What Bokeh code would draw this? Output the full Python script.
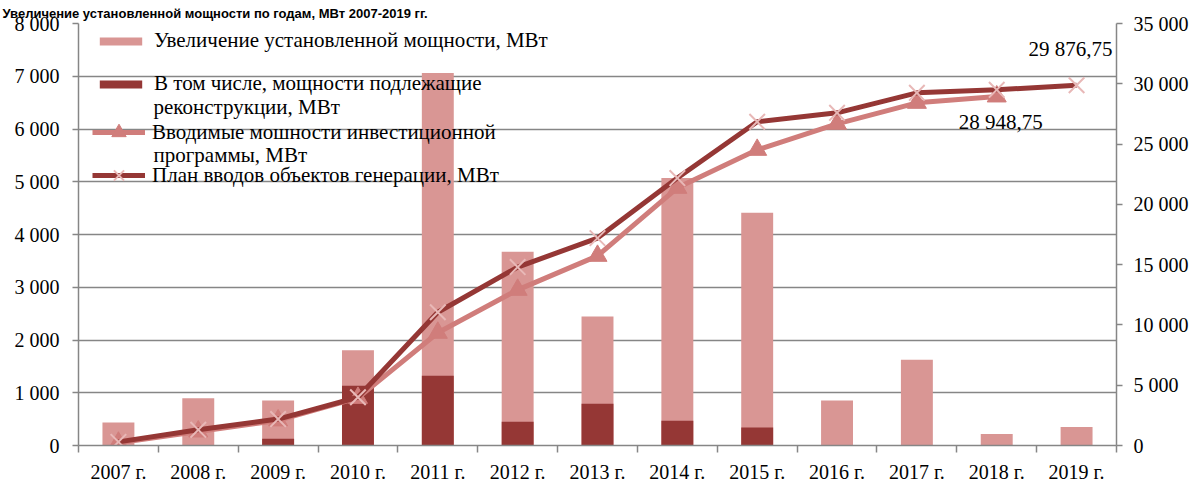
import numpy as np
from bokeh.plotting import figure
from bokeh.models import Range1d, LinearAxis, FixedTicker, Legend, LegendItem, Label
from bokeh.embed import file_html
from bokeh.resources import INLINE

years = ["2007 г.", "2008 г.", "2009 г.", "2010 г.", "2011 г.", "2012 г.", "2013 г.",
         "2014 г.", "2015 г.", "2016 г.", "2017 г.", "2018 г.", "2019 г."]
increase = [436, 898, 853, 1808, 7063, 3671, 2445, 5073, 4410, 853, 1624, 216, 349]
reconstruction = [0, 0, 127, 1131, 1321, 449, 790, 468, 341, 0, 0, 0, 0]
invest = [230, 1160, 2080, 3950, 9350, 12910, 15730, 21370, 24520, 26680, 28420, 28948.75]
plan = [300, 1300, 2190, 4000, 11050, 14800, 17200, 22180, 26850, 27590, 29250, 29500, 29876.75]
left_ticks = [0, 1000, 2000, 3000, 4000, 5000, 6000, 7000, 8000]
right_ticks = [0, 5000, 10000, 15000, 20000, 25000, 30000, 35000]

title = "Увеличение установленной мощности по годам, МВт 2007-2019 гг."
names = ["Увеличение установленной мощности, МВт",
         "В том числе, мощности подлежащие",
         "Вводимые мошности инвестиционной",
         "План вводов объектов генерации, МВт"]
names_cont = ["реконструкции, МВт", "программы, МВт"]

def sp(v):
    return f"{int(v):,}".replace(",", " ")

def ru(v):
    return f"{v:,.2f}".replace(",", " ").replace(".", ",")

FONT = "Liberation Serif"
GRID = "#868686"
C_LIGHT = "#d99694"
C_DARK = "#953735"
C_INV = "#d07d7b"
C_X = "#e8b8b7"
TICK_FS = "20px"
LEG_FS = "21px"

xc = [i + 0.5 for i in range(len(years))]

p = figure(frame_width=1038, frame_height=422,
           x_range=Range1d(0, len(years)), y_range=Range1d(0, 8000),
           output_backend="svg", toolbar_location=None,
           min_border_left=78, min_border_right=76, min_border_top=23, min_border_bottom=36)
p.extra_y_ranges = {"right": Range1d(0, 35000)}
p.outline_line_color = None
p.background_fill_color = "white"
p.border_fill_color = "white"

p.title.text = title
p.title.text_font = "Liberation Sans"
p.title.text_font_style = "bold"
p.title.text_font_size = "13px"
p.title.text_color = "black"
p.title.align = "left"
p.title.offset = -76
p.title.standoff = 6

# axes
xa = p.xaxis[0]
xa.ticker = FixedTicker(ticks=xc, minor_ticks=list(range(len(years) + 1)))
xa.major_label_overrides = {x: y for x, y in zip(xc, years)}
xa.major_tick_line_color = None
xa.major_tick_in = 0
xa.major_tick_out = 7
xa.minor_tick_line_color = GRID
xa.minor_tick_line_width = 1.5
xa.minor_tick_in = 0
xa.minor_tick_out = 7
xa.axis_line_color = GRID
xa.axis_line_width = 1.5
xa.major_label_text_font = FONT
xa.major_label_text_font_size = TICK_FS
xa.major_label_text_color = "black"
xa.major_label_standoff = 8

ya = p.yaxis[0]
ya.ticker = FixedTicker(ticks=left_ticks)
ya.major_label_overrides = {t: sp(t) for t in left_ticks}
ya.minor_tick_line_color = None
ya.major_tick_in = 0
ya.major_tick_out = 6
ya.major_tick_line_color = GRID
ya.major_tick_line_width = 1.5
ya.axis_line_color = GRID
ya.axis_line_width = 1.5
ya.major_label_text_font = FONT
ya.major_label_text_font_size = TICK_FS
ya.major_label_text_color = "black"
ya.major_label_standoff = 13

ra = LinearAxis(y_range_name="right", ticker=FixedTicker(ticks=right_ticks))
ra.major_label_overrides = {t: sp(t) for t in right_ticks}
ra.minor_tick_line_color = None
ra.major_tick_in = 0
ra.major_tick_out = 6
ra.major_tick_line_color = GRID
ra.major_tick_line_width = 1.5
ra.axis_line_color = GRID
ra.axis_line_width = 1.5
ra.major_label_text_font = FONT
ra.major_label_text_font_size = TICK_FS
ra.major_label_text_color = "black"
ra.major_label_standoff = 11
p.add_layout(ra, "right")

p.xgrid.visible = False
p.ygrid.ticker = FixedTicker(ticks=left_ticks)
p.ygrid.grid_line_color = GRID
p.ygrid.grid_line_width = 1.5

# bars
b1 = p.vbar(x=xc, top=increase, width=0.4, fill_color=C_LIGHT, line_color=None)
b2 = p.vbar(x=xc, top=reconstruction, width=0.4, fill_color=C_DARK, line_color=None)

# lines
l1 = p.line(xc[:len(invest)], invest, y_range_name="right", line_color=C_INV, line_width=5)
m1 = p.scatter(xc[:len(invest)], invest, y_range_name="right", marker="triangle", size=19,
               fill_color=C_INV, line_color=C_INV)
l2 = p.line(xc, plan, y_range_name="right", line_color=C_DARK, line_width=5)
m2 = p.scatter(xc, plan, y_range_name="right", marker="x", size=22,
               line_color=C_X, line_width=2)

# data labels
p.add_layout(Label(x=xc[len(plan) - 1], y=plan[-1], y_range_name="right", text=ru(plan[-1]),
                   text_font=FONT, text_font_size=LEG_FS, text_align="center", text_color="black",
                   text_baseline="middle", x_offset=-6, y_offset=36))
p.add_layout(Label(x=xc[len(invest) - 1], y=invest[-1], y_range_name="right", text=ru(invest[-1]),
                   text_font=FONT, text_font_size=LEG_FS, text_align="center", text_color="black",
                   text_baseline="middle", x_offset=4, y_offset=-26))

def style_legend(lg, gh, spc):
    lg.label_text_font = FONT
    lg.label_text_font_size = LEG_FS
    lg.label_text_color = "black"
    lg.background_fill_alpha = 0
    lg.border_line_color = None
    lg.glyph_width = 53
    lg.glyph_height = gh
    lg.label_height = 24
    lg.padding = 0
    lg.margin = 0
    lg.spacing = spc
    lg.label_standoff = 7

leg_bars = Legend(items=[LegendItem(label=names[0], renderers=[b1]),
                         LegendItem(label=names[1], renderers=[b2])],
                  location=(16, 349))
style_legend(leg_bars, 10, 18)
leg_lines = Legend(items=[LegendItem(label=names[2], renderers=[l1, m1]),
                          LegendItem(label=names[3], renderers=[l2, m2])],
                   location=(14, 252))
style_legend(leg_lines, 36, 7)
p.add_layout(leg_bars)
p.add_layout(leg_lines)

for txt, yoff in zip(names_cont, [-83, -131]):
    p.add_layout(Label(x=0, y=8000, text=txt, text_font=FONT, text_font_size=LEG_FS,
                       text_color="black", text_align="left", text_baseline="middle",
                       x_offset=75, y_offset=yoff))

open("out.html", "w").write(file_html(p, INLINE))
